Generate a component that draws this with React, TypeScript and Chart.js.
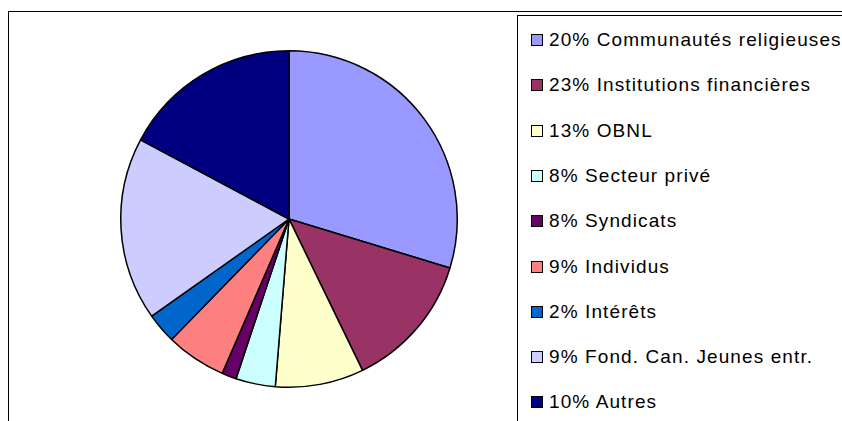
import React, { useEffect, useRef } from "react";
import { Chart, registerables } from "chart.js";

Chart.register(...registerables);

const categories = [
  "20% Communautés religieuses",
  "23% Institutions financières",
  "13% OBNL",
  "8% Secteur privé",
  "8% Syndicats",
  "9% Individus",
  "2% Intérêts",
  "9% Fond. Can. Jeunes entr.",
  "10% Autres",
];

const sliceValues = [29.7, 13.1, 8.5, 3.8, 1.4, 5.8, 2.9, 17.6, 17.2];

const sliceColors = [
  "#9999FF",
  "#993366",
  "#FFFFCC",
  "#CCFFFF",
  "#660066",
  "#FF8080",
  "#0066CC",
  "#CCCCFF",
  "#000080",
];

export default function App() {
  const canvasRef = useRef<HTMLCanvasElement | null>(null);

  useEffect(() => {
    if (!canvasRef.current) return;
    const chart = new Chart(canvasRef.current, {
      type: "pie",
      data: {
        labels: categories,
        datasets: [
          {
            data: sliceValues,
            backgroundColor: sliceColors,
            borderColor: "#000000",
            borderWidth: 1.5,
          },
        ],
      },
      options: {
        animation: false,
        responsive: false,
        maintainAspectRatio: false,
        layout: { padding: 3 },
        plugins: {
          legend: { display: false },
          tooltip: { enabled: false },
          title: { display: false },
        },
      },
    });
    return () => chart.destroy();
  }, []);

  return (
    <div
      style={{
        position: "absolute",
        left: 0,
        top: 0,
        width: 842,
        height: 421,
        overflow: "hidden",
        background: "#ffffff",
        fontFamily: "'Liberation Sans', Arial, sans-serif",
      }}
    >
      <div
        style={{
          position: "absolute",
          left: 8,
          top: 11,
          width: 900,
          height: 500,
          border: "1px solid #000",
          boxSizing: "border-box",
        }}
      />
      <canvas
        ref={canvasRef}
        width={344}
        height={344}
        style={{ position: "absolute", left: 117, top: 47, width: 344, height: 344 }}
      />
      <div
        style={{
          position: "absolute",
          left: 517,
          top: 15,
          width: 400,
          height: 500,
          border: "1px solid #000",
          boxSizing: "border-box",
          background: "#fff",
        }}
      />
      {categories.map((label, i) => (
        <div
          key={label}
          style={{
            position: "absolute",
            left: 531,
            top: 40 + i * 45.3 - 12,
            height: 24,
            display: "flex",
            alignItems: "center",
            whiteSpace: "nowrap",
            fontSize: 19,
            letterSpacing: "1.1px",
            color: "#000",
          }}
        >
          <span
            style={{
              display: "inline-block",
              width: 10,
              height: 10,
              background: sliceColors[i],
              border: "1px solid #000",
              marginRight: 6,
            }}
          />
          <span>{label}</span>
        </div>
      ))}
    </div>
  );
}
